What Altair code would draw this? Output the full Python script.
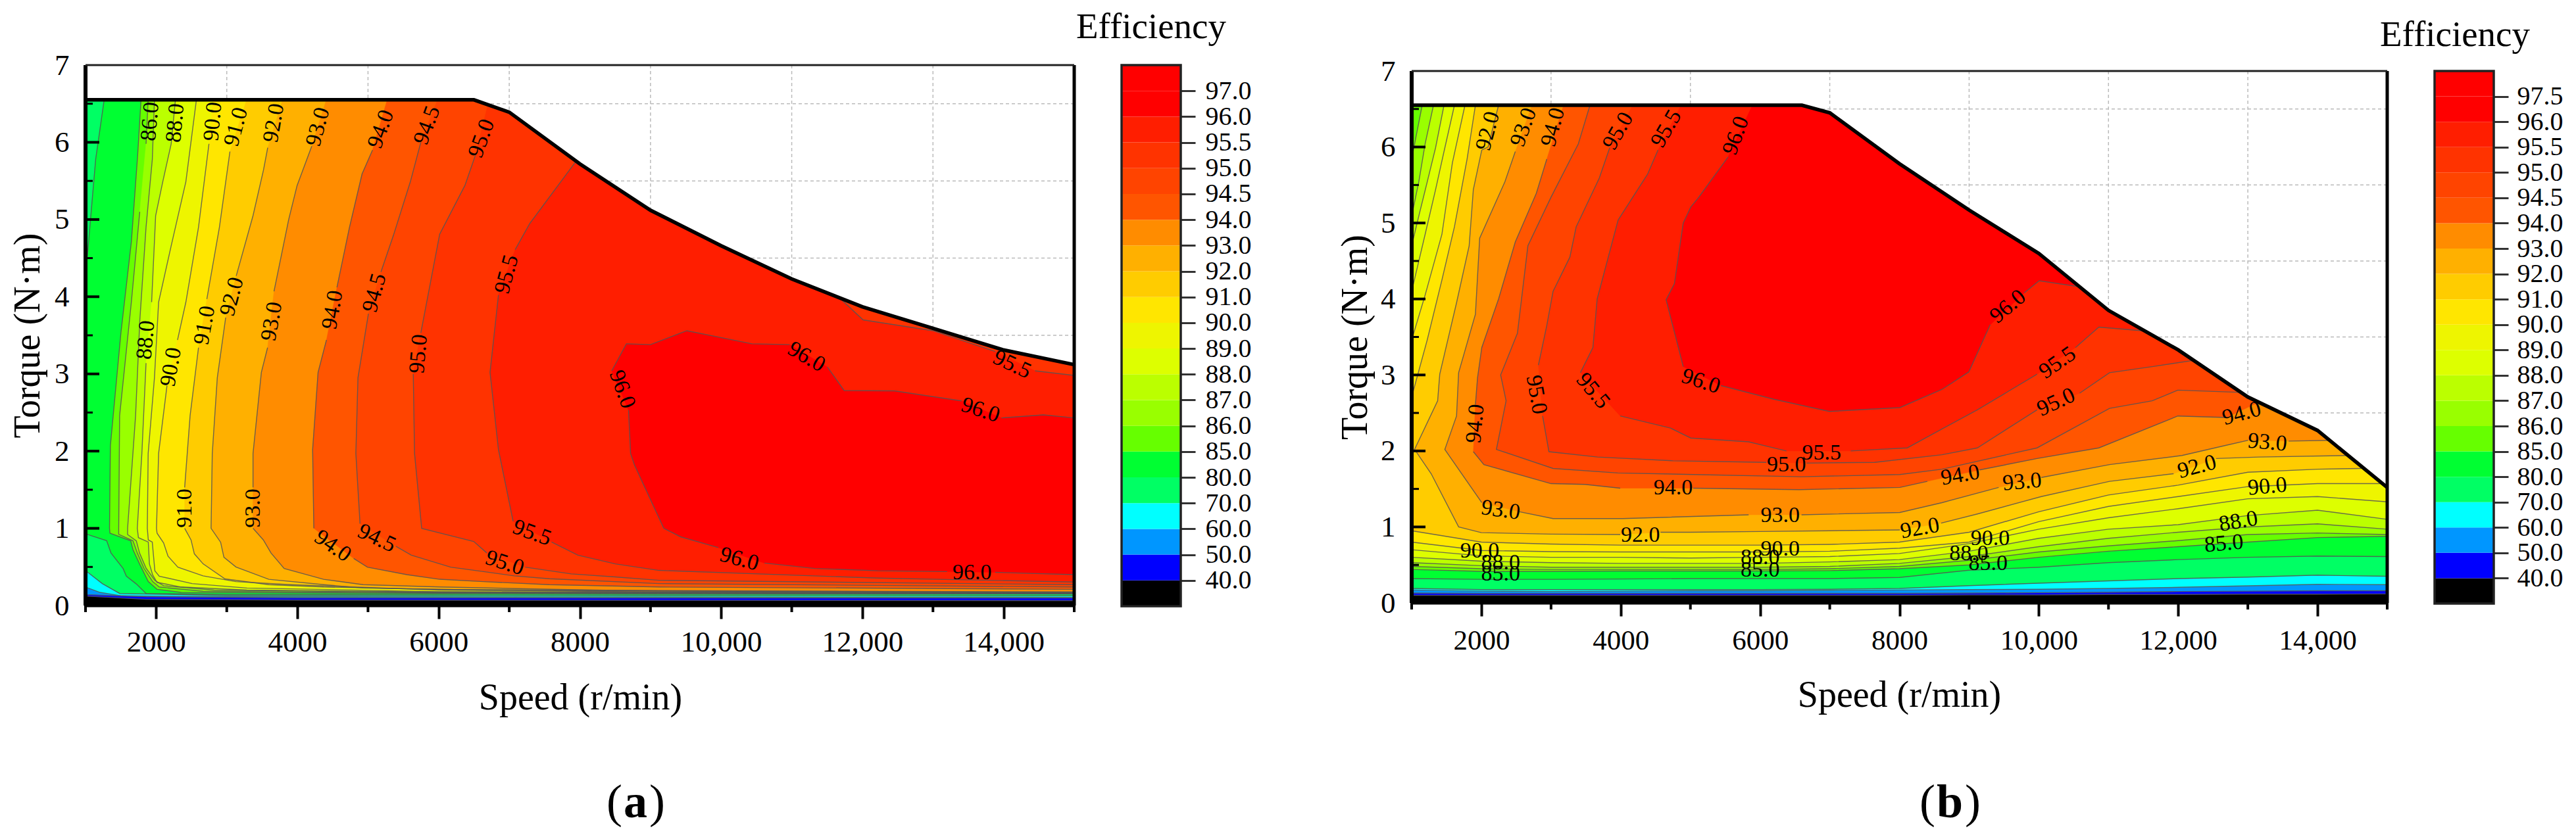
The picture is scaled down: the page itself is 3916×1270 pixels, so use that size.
import altair as alt
import pandas as pd

FONT = "Liberation Serif"

# Efficiency bands: lower bound of each band and its colour
band_levels = ["base", "40", "50", "60", "70", "80", "85", "86", "87", "88", "89", "90", "91", "92", "93", "94", "94.5", "95", "95.5", "96"]
band_colors = ["#000000", "#0000ff", "#0096ff", "#00ffff", "#00ff64", "#00ff32", "#66ff00", "#99ff00", "#bbff00", "#ddff00",
               "#eef500", "#ffe600", "#ffcc00", "#ffb000", "#ff8c00", "#ff5500", "#ff4400", "#ff3300", "#ff1e00", "#ff0000"]
legend_a = ["40.0", "50.0", "60.0", "70.0", "80.0", "85.0", "86.0", "87.0", "88.0", "89.0", "90.0", "91.0", "92.0", "93.0", "94.0", "94.5", "95.0", "95.5", "96.0", "97.0"]
legend_b = legend_a[:-1] + ["97.5"]

x_major = [2000, 4000, 6000, 8000, 10000, 12000, 14000]
x_minor = [1000, 3000, 5000, 7000, 9000, 11000, 13000, 15000]
y_major = [1, 2, 3, 4, 5, 6]
y_minor = [0.5, 1.5, 2.5, 3.5, 4.5, 5.5, 6.5]
grid_s = [3000, 5000, 7000, 9000, 11000, 13000]

# ---------------- panel (a) ----------------
edge_a = [(1000, 6.55), (6500, 6.55), (7000, 6.39), (8000, 5.72), (9000, 5.12), (10000, 4.66), (11000, 4.23), (12000, 3.87), (13000, 3.59), (14000, 3.31), (15000, 3.12)]
contours_a = {
 "base": [[(1000, 0), (15000, 0)]],
 "40": [[(1000, .122), (1858, .08), (4000, .07), (15000, .063)]],
 "50": [[(1000, .142), (1858, .114), (4000, .1), (15000, .1)]],
 "60": [[(1000, .24), (1206, .17), (1516, .125), (3000, .115), (15000, .105)]],
 "70": [[(1000, .454), (1237, .284), (1485, .156), (3000, .13), (15000, .125)]],
 "80": [[(1264, 6.55), (1144, 5.78), (1025, 4.51), (1000, 4.3)], [(1000, .93), (1299, .84), (1361, .68), (1532, .48), (1578, .38), (1718, .28), (1858, .156), (3000, .145), (15000, .148)]],
 "85": [[(1786, 6.55), (1738, 5.83), (1649, 4.71), (1501, 3.53), (1352, 2.07), (1340, 1.0), (1346, .937), (1640, .838), (1672, .724), (1765, .54), (1889, .31), (2013, .21), (2355, .17), (6000, .16), (15000, .152)]],
 "86": [[(1887, 6.55), (1857, 5.98)], [(1768, 5.1), (1649, 3.93), (1483, 2.46), (1470, 1.0), (1470, .923), (1672, .838), (1734, .68), (1827, .483), (1951, .31), (2044, .24), (2665, .185), (6000, .165), (15000, .155)]],
 "87": [[(1976, 6.55), (1946, 5.78), (1857, 4.9), (1768, 3.68), (1709, 2.46), (1596, 1.0), (1596, .92), (1720, .838), (1765, .68), (1858, .483), (1982, .325), (2106, .256), (2820, .2), (6000, .17), (15000, .158)]],
 "88": [[(2273, 6.55), (2213, 5.98), (2094, 5.49), (1993, 5.05), (1936, 3.93)], [(1857, 3.14), (1798, 1.97), (1733, 1.0), (1749, .88), (1889, .823), (1905, .54), (1951, .397), (2013, .3), (2355, .24), (3285, .2), (6000, .175), (15000, .16)]],
 "89": [[(2570, 6.55), (2421, 5.49), (2213, 4.66), (2035, 3.93), (1976, 2.95), (1887, 1.97), (1875, 1.0), (1889, .85), (1945, .823), (1982, .45), (2044, .38), (2510, .284), (3285, .227), (6000, .18), (15000, .162)]],
 "90": [[(2807, 6.55)], [(2748, 5.98), (2600, 4.9), (2421, 3.93), (2303, 3.44)], [(2154, 2.85), (2035, 1.97), (2005, 1.0), (2013, .937), (2106, .81), (2168, .64), (2308, .497), (2665, .384), (3130, .31), (3907, .27), (6000, .2), (15000, .165)]],
 "91": [[(3281, 6.55)], [(3045, 5.88), (2896, 4.9), (2718, 3.97)], [(2600, 3.34), (2481, 2.46), (2404, 1.53)], [(2404, 1.0), (2494, .85), (2541, .67), (2665, .54), (2975, .345), (3596, .27), (4372, .24), (6000, .21), (15000, .168)]],
 "92": [[(3790, 6.55)], [(3580, 5.93), (3520, 5.64), (3372, 5.05), (3134, 4.27)], [(2985, 3.73), (2866, 2.95), (2795, 1.97), (2778, 1.0), (2913, .82), (2960, .625), (3130, .5), (3596, .34), (4372, .27), (4930, .227), (6637, .2), (9120, .175), (15000, .172)]],
 "93": [[(4410, 6.55)], [(4204, 5.95), (3996, 5.44), (3877, 5.0), (3669, 4.07)], [(3578, 3.34), (3490, 3.02), (3372, 1.97), (3372, 1.53)], [(3372, 1.0), (3518, .85), (3627, .68), (3813, .48), (4372, .34), (4930, .27), (6016, .24), (8189, .2), (9120, .19), (15000, .178)]],
 "94": [[(5272, 6.55)], [(5064, 5.9), (4916, 5.59), (4738, 4.9), (4560, 4.12)], [(4412, 3.44), (4293, 3.02), (4216, 2.02), (4233, 1.0)], [(4797, .61), (4992, .497), (5550, .40), (6016, .34), (6637, .31), (7568, .27), (9120, .24), (15000, .21)]],
 "94.5": [[(5985, 6.55)], [(5748, 6.0), (5600, 5.49), (5362, 4.8), (5183, 4.32)], [(5006, 3.78), (4858, 2.95), (4828, 1.97), (4887, 1.06)], [(5395, .767), (5613, .653), (6171, .497), (6637, .44), (7071, .384), (7568, .347), (9120, .284), (15000, .24)]],
 "95": [[(6698, 6.49)], [(6520, 5.83), (6372, 5.44), (6015, 4.81), (5748, 3.53)], [(5641, 3.0), (5659, 1.97), (5760, 1.0), (6497, .83), (6683, .68)], [(7227, .497), (7878, .41), (8500, .37), (9120, .327), (15000, .27)]],
 "95.5": [[(7950, 5.76), (7292, 4.95), (7084, 4.61)], [(6847, 4.02), (6728, 3.02), (6847, 2.02), (7055, 1.09)], [(7599, .823), (7971, .653), (8500, .54), (9120, .455), (12218, .355), (15000, .305)], [(15000, 2.98), (14445, 3.04)], [(13881, 3.29), (13000, 3.56), (12010, 3.7), (11683, 3.98)]],
 "96": [[(15000, 2.43), (14564, 2.47), (13970, 2.43)], [(13406, 2.65), (12456, 2.78), (11743, 2.785), (11505, 3.09)], [(10970, 3.38), (10436, 3.39), (9515, 3.56), (9000, 3.38), (8659, 3.39), (8451, 3.04)], [(8689, 2.53), (8718, 1.97), (8773, 1.82), (9188, 1.0), (9426, .89), (9961, .75)], [(10614, .55), (11327, .48), (12218, .45), (13200, .44)], [(13881, .43), (15000, .40)]],
}
labels_a = [("86.0", 1917, 6.27, 275), ("88.0", 2273, 6.25, 275), ("90.0", 2807, 6.27, 275), ("91.0", 3134, 6.2, 285), ("92.0", 3669, 6.25, 280),
            ("93.0", 4293, 6.2, 285), ("94.0", 5184, 6.17, 290), ("94.5", 5838, 6.22, 290), ("95.0", 6610, 6.05, 290), ("95.5", 6966, 4.29, 285),
            ("94.5", 5094, 4.05, 285), ("92.0", 3075, 4.0, 285), ("91.0", 2689, 3.63, 280), ("94.0", 4500, 3.83, 280), ("93.0", 3639, 3.68, 280),
            ("88.0", 1857, 3.44, 275), ("90.0", 2213, 3.09, 280), ("95.0", 5718, 3.26, 275), ("96.0", 8599, 2.8, 70), ("91.0", 2404, 1.26, 270),
            ("93.0", 3372, 1.26, 270), ("94.0", 4500, .77, 35), ("94.5", 5124, .87, 25), ("95.0", 6936, .55, 18), ("95.5", 7322, .94, 20),
            ("96.0", 11208, 3.22, 30), ("95.5", 14119, 3.12, 25), ("96.0", 13673, 2.53, 18), ("96.0", 10258, .6, 15), ("96.0", 13555, .43, 0)]

# ---------------- panel (b) ----------------
edge_b = [(1000, 6.55), (6600, 6.55), (7000, 6.45), (8000, 5.78), (9000, 5.17), (10000, 4.6), (11000, 3.85), (12000, 3.33), (13000, 2.71), (14000, 2.27), (15000, 1.52)]
speeds_b = [1000, 2000, 3000, 4000, 5000, 6000, 7000, 8000, 9000, 10000, 11000, 12000, 13000, 14000, 15000]
low_40 = [.1, .1, .1, .1, .1, .1, .1, .1, .105, .105, .11, .11, .115, .115, .118]
low_50 = [.13, .125, .125, .125, .125, .125, .125, .125, .13, .135, .14, .15, .155, .16, .16]
low_60 = [.17, .155, .15, .155, .16, .16, .165, .17, .175, .18, .19, .205, .225, .245, .24]
low_70 = [.19, .175, .175, .175, .175, .175, .18, .19, .227, .26, .29, .32, .34, .365, .35]
low_80 = [.32, .31, .31, .315, .32, .32, .32, .335, .43, .47, .53, .57, .6, .617, .61]
low_85 = [.44, .415, .415, .42, .42, .42, .425, .45, .5, .6, .68, .74, .8, .86, .876]
low_86 = [.48, .45, .44, .44, .44, .44, .45, .48, .56, .67, .75, .82, .9, .92, .9]
low_87 = [.53, .49, .47, .47, .47, .47, .48, .52, .61, .74, .85, .93, 1.0, 1.04, .97]
low_88 = [.6, .55, .53, .52, .52, .52, .54, .57, .68, .85, .97, 1.03, 1.15, 1.22, 1.1]
low_89 = [.7, .62, .6, .6, .59, .6, .61, .65, .78, .97, 1.12, 1.24, 1.37, 1.4, 1.33]
low_90 = [.8, .69, .675, .67, .67, .67, .68, .72, .8, 1.07, 1.27, 1.4, 1.53, 1.57]
low_91 = [.95, .8, .775, .76, .76, .76, .77, .8, .93, 1.2, 1.42, 1.55, 1.72, 1.76]
contours_b = {
 "base": [[(1000, 0), (15000, 0)]],
 "40": [list(zip(speeds_b, low_40))],
 "50": [list(zip(speeds_b, low_50))],
 "60": [list(zip(speeds_b, low_60))],
 "70": [list(zip(speeds_b, low_70))],
 "80": [list(zip(speeds_b, low_80))],
 "85": [list(zip(speeds_b, low_85))],
 "86": [[(1151, 6.55), (1042, 6.04), (1000, 5.84)], list(zip(speeds_b, low_86))],
 "87": [[(1313, 6.55), (1193, 6.04), (1102, 5.54), (1000, 5.09)], list(zip(speeds_b, low_87))],
 "88": [[(1464, 6.55), (1343, 5.99), (1223, 5.54), (1102, 5.09), (1000, 4.7)], list(zip(speeds_b, low_88))],
 "89": [[(1614, 6.55), (1464, 5.94), (1343, 5.44), (1193, 4.85), (1000, 4.1)], list(zip(speeds_b, low_89))],
 "90": [[(1765, 6.55), (1584, 5.79), (1434, 4.85), (1193, 4.05), (1000, 3.46)], list(zip(speeds_b, low_90)) + [(14933, 1.57)]],
 "91": [[(1915, 6.55), (1795, 5.84), (1614, 4.95), (1434, 4.25), (1223, 3.46), (1000, 2.71)], list(zip(speeds_b, low_91)) + [(14626, 1.77)]],
 "92": [[(2247, 6.55), (2096, 6.0), (2006, 5.96), (1885, 5.44), (1825, 4.7), (1644, 3.95), (1403, 3.01), (1373, 2.66), (1042, 2.02), (1280, 1.7), (1674, 1.0), (2000, .925), (3000, .905), (3993, .9)], [(4571, .93), (5000, .93), (6000, .94), (7000, .95), (8005, .96)], [(8598, 1.05), (9118, 1.17), (10036, 1.4), (11015, 1.6), (11934, 1.7)], [(12545, 1.9), (13157, 1.92), (14440, 1.94)]],
 "93": [[(2728, 6.55)], [(2487, 5.94), (2337, 5.54), (1976, 4.8), (1915, 3.8), (1674, 3.03), (1644, 2.46), (1476, 2.02), (2006, 1.32)], [(2548, 1.2), (3029, 1.11), (4029, 1.11), (5836, 1.16)], [(6595, 1.16), (8005, 1.19), (8612, 1.32), (9424, 1.52)], [(10036, 1.65), (11015, 1.82), (12056, 1.94), (12668, 2.07), (13004, 2.14)], [(13586, 2.13), (14173, 2.14)]],
 "94": [[(3180, 6.55)], [(2939, 5.84), (2789, 5.39), (2487, 4.75), (2247, 4.0), (2006, 3.36), (1945, 2.96), (1915, 2.61)], [(1885, 1.99), (2036, 1.82), (3000, 1.57), (3487, 1.56), (3993, 1.51)], [(5041, 1.51), (6559, 1.49), (8005, 1.52), (8400, 1.6)], [(9149, 1.75), (9975, 1.9), (10862, 2.04), (11995, 2.46), (12698, 2.44)], [(13150, 2.64)]],
 "94.5": [[(3559, 6.55), (3391, 6.04), (3000, 5.34), (2668, 4.7), (2518, 3.55), (2277, 3.0), (2355, 2.66), (2216, 2.02), (3029, 1.77), (3957, 1.71), (5041, 1.69), (6595, 1.66), (8005, 1.69), (8612, 1.76), (9975, 2.04), (11015, 2.56), (11627, 2.66), (11995, 2.8), (12913, 2.77)]],
 "95": [[(4174, 6.55)], [(3842, 5.99), (3692, 5.59), (3361, 4.95), (3270, 4.55), (3029, 4.1), (2939, 3.65), (2819, 3.13)], [(2879, 2.46), (2970, 1.99), (3668, 1.92), (4752, 1.87), (6089, 1.85)], [(6667, 1.84), (7643, 1.85), (8612, 1.95), (9118, 2.04), (9975, 2.54)], [(10587, 2.76), (11015, 3.03), (11627, 3.11), (12209, 3.19)]],
 "95.5": [[(4866, 6.55)], [(4535, 5.96), (4384, 5.64), (3963, 5.04), (3662, 4.0), (3601, 3.36), (3421, 3.03)], [(3993, 2.46), (4716, 2.3), (5005, 2.17), (5836, 2.12), (6378, 2.0)], [(7300, 2.0), (8113, 2.04), (8612, 2.29), (9118, 2.54), (9975, 3.01)], [(10526, 3.36), (10862, 3.63), (11505, 3.58)]],
 "96": [[(5890, 6.55)], [(5542, 5.87), (5113, 5.33), (5005, 5.21), (4897, 5.0), (4770, 4.2), (4651, 3.99), (4897, 3.11)], [(5439, 2.86), (6198, 2.68), (6993, 2.52), (8005, 2.57), (8612, 2.81), (8996, 3.04), (9302, 3.66)], [(9791, 4.08), (10006, 4.24), (10587, 4.16)]],
}
labels_b = [("92.0", 2096, 6.21, 285), ("93.0", 2608, 6.26, 290), ("94.0", 3029, 6.26, 285), ("95.0", 3963, 6.21, 300), ("95.5", 4655, 6.24, 300),
            ("96.0", 5655, 6.15, 290), ("94.0", 1915, 2.36, 275), ("95.0", 2789, 2.74, 80), ("95.5", 3601, 2.79, 50), ("96.0", 5150, 2.915, 18),
            ("95.5", 6884, 1.97, 0), ("95.0", 6378, 1.82, 0), ("94.0", 4752, 1.51, 0), ("93.0", 2277, 1.22, 8), ("92.0", 4282, .895, 0),
            ("93.0", 6288, 1.15, 0), ("92.0", 8294, .98, 350), ("90.0", 1976, .68, 0), ("88.0", 2277, .53, 0), ("85.0", 2277, .38, 0),
            ("90.0", 6288, .71, 0), ("88.0", 6000, .6, 0), ("85.0", 6000, .43, 0), ("96.0", 9559, 3.9, 320), ("95.5", 10269, 3.16, 325),
            ("95.0", 10250, 2.64, 335), ("94.0", 12913, 2.49, 345), ("93.0", 13280, 2.11, 5), ("92.0", 12270, 1.79, 345), ("90.0", 13280, 1.53, 355),
            ("88.0", 12864, 1.07, 350), ("85.0", 12656, .78, 355), ("94.0", 8873, 1.68, 350), ("93.0", 9761, 1.59, 355), ("90.0", 9302, .85, 0),
            ("88.0", 8996, .65, 0), ("85.0", 9271, .52, 0)]


def polygon(pieces, edge):
    pts = [p for piece in pieces for p in piece]
    first, last = pts[0], pts[-1]
    if first[0] < last[0]:
        pts += [p for p in reversed(edge) if first[0] <= p[0] <= last[0]]
    return pts


def panel(contours, edge, labels, W, H, letter, sub, title_x, sub_y):
    x_sc = alt.Scale(domain=[1000, 15000], nice=False, zero=False)
    y_sc = alt.Scale(domain=[0, 7], nice=False, zero=False)
    x_enc = alt.X("s:Q", scale=x_sc, title="Speed (r/min)", axis=alt.Axis(
        values=x_major, grid=False, domain=False, tickSize=20, tickWidth=4, tickColor="black",
        labelFont=FONT, labelFontSize=sub["xl"], labelColor="black", labelPadding=sub["xp"], labelBaseline="alphabetic",
        labelExpr="datum.value >= 10000 ? format(datum.value, ',') : format(datum.value, 'd')", labelOverlap=False,
        titleFont=FONT, titleFontSize=sub["tf"], titleFontWeight="normal", titleColor="black", titleX=title_x, titleY=sub["ty"], titleBaseline="alphabetic"))
    y_enc = alt.Y("t:Q", scale=y_sc, title="Torque (N·m)", axis=alt.Axis(
        values=[0] + y_major + [7], grid=False, domain=False, ticks=False, labelPadding=25,
        labelFont=FONT, labelFontSize=45, labelColor="black", format="d",
        titleFont=FONT, titleFontSize=sub["tf"], titleFontWeight="normal", titleColor="black", titleX=sub["yx"], titleY=H / 2, titleBaseline="alphabetic"))

    layers = []
    grid_v = pd.DataFrame({"s": grid_s})
    grid_h = pd.DataFrame({"t": y_minor})
    layers.append(alt.Chart(grid_v).mark_rule(color="#bbbbbb", strokeWidth=1.5, strokeDash=[5, 4]).encode(x=x_enc))
    layers.append(alt.Chart(grid_h).mark_rule(color="#bbbbbb", strokeWidth=1.5, strokeDash=[5, 4]).encode(y=y_enc))

    for lev, col in zip(band_levels, band_colors):
        pts = polygon(contours[lev], edge)
        df = pd.DataFrame({"s": [p[0] for p in pts], "t": [p[1] for p in pts], "i": range(len(pts))})
        layers.append(alt.Chart(df).mark_line(fill=col, stroke=col, strokeWidth=0.5).encode(x=x_enc, y=y_enc, order=alt.Order("i:Q")))

    rows = []
    for lev in band_levels[1:]:
        for k, piece in enumerate(contours[lev]):
            for i, p in enumerate(piece):
                rows.append({"s": p[0], "t": p[1], "i": i, "p": f"{lev}-{k}"})
    layers.append(alt.Chart(pd.DataFrame(rows)).mark_line(color="#555555", strokeWidth=1.4, opacity=0.85).encode(
        x=x_enc, y=y_enc, detail="p:N", order=alt.Order("i:Q")))

    lab = pd.DataFrame(labels, columns=["txt", "s", "t", "a"])
    layers.append(alt.Chart(lab).mark_text(font=FONT, fontSize=34, color="black", baseline="middle", align="center").encode(
        x=x_enc, y=y_enc, text="txt:N", angle=alt.Angle("a:Q", scale=None)))

    edf = pd.DataFrame({"s": [p[0] for p in edge], "t": [p[1] for p in edge], "i": range(len(edge))})
    layers.append(alt.Chart(edf).mark_line(color="black", strokeWidth=5.5).encode(x=x_enc, y=y_enc, order=alt.Order("i:Q")))

    # frame
    layers.append(alt.Chart(pd.DataFrame({"s": [1000]})).mark_rule(color="black", strokeWidth=6).encode(x=x_enc))
    layers.append(alt.Chart(pd.DataFrame({"s": [15000]})).mark_rule(color="black", strokeWidth=5).encode(x=x_enc))
    layers.append(alt.Chart(pd.DataFrame({"t": [0]})).mark_rule(color="black", strokeWidth=5).encode(y=y_enc))
    layers.append(alt.Chart(pd.DataFrame({"t": [7]})).mark_rule(color="#222222", strokeWidth=3).encode(y=y_enc))

    # inward y ticks, short outward x ticks
    layers.append(alt.Chart(pd.DataFrame({"t": y_major})).mark_rule(color="black", strokeWidth=4).encode(y=y_enc, x=alt.value(0), x2=alt.value(21)))
    layers.append(alt.Chart(pd.DataFrame({"t": y_minor})).mark_rule(color="black", strokeWidth=3).encode(y=y_enc, x=alt.value(0), x2=alt.value(11)))
    layers.append(alt.Chart(pd.DataFrame({"s": x_minor})).mark_rule(color="black", strokeWidth=4).encode(x=x_enc, y=alt.value(H), y2=alt.value(H + 10)))

    # sub-figure letter
    for txt, dx, w in letter:
        layers.append(alt.Chart(pd.DataFrame({"s": [0]})).mark_text(text=txt, font=FONT, fontSize=72, fontWeight=w, color="black", baseline="alphabetic", align="center").encode(
            x=alt.value(dx), y=alt.value(sub_y)))
    return alt.layer(*layers).properties(width=W, height=H)


def colorbar(labels, H, pad, tx, ty):
    n = len(labels) + 1
    colors = band_colors + ["#ff0000"]
    df = pd.DataFrame({"lo": list(range(n)), "hi": [v + 1 for v in range(n)], "c": colors})
    lab_js = "[" + ",".join(f"'{v}'" for v in labels) + "]"
    y_enc = alt.Y("lo:Q", scale=alt.Scale(domain=[0, n], nice=False, zero=False), title=None, axis=alt.Axis(
        orient="right", values=list(range(1, n)), grid=False, domain=False, tickSize=22, tickWidth=3, tickColor="#333333",
        labelFont=FONT, labelFontSize=40, labelColor="black", labelPadding=pad, labelOverlap=False, labelExpr=f"{lab_js}[datum.value - 1]"))
    bars = alt.Chart(df).mark_rect().encode(y=y_enc, y2="hi:Q", x=alt.value(0), x2=alt.value(90), color=alt.Color("c:N", scale=None))
    outline = alt.Chart(pd.DataFrame({"lo": [0], "hi": [n]})).mark_rect(filled=False, stroke="#222222", strokeWidth=3.5).encode(
        y=y_enc, y2="hi:Q", x=alt.value(0), x2=alt.value(90))
    title = alt.Chart(pd.DataFrame({"a": [0]})).mark_text(text="Efficiency", font=FONT, fontSize=55, color="black", baseline="alphabetic", align="center").encode(
        x=alt.value(tx), y=alt.value(ty))
    return alt.layer(bars, outline, title).properties(width=90, height=H)


def spacer(w, h):
    return alt.Chart(pd.DataFrame({"a": [0]})).mark_point(opacity=0).encode(x=alt.value(0), y=alt.value(0)).properties(
        width=w, height=h, view=alt.ViewBackground(stroke="transparent", fill="transparent", strokeWidth=0))


sub_a = {"xl": 45, "xp": 49, "tf": 56, "ty": 157, "yx": -71}
sub_b = {"xl": 43, "xp": 50, "tf": 56, "ty": 157, "yx": -69}
pa = panel(contours_a, edge_a, labels_a, 1503, 822, [("(", 804, "normal"), ("a", 836, "bold"), (")", 869, "normal")], sub_a, 752, 1144)
pb = panel(contours_b, edge_b, labels_b, 1483, 809, [("(", 784, "normal"), ("b", 818, "bold"), (")", 853, "normal")], sub_b, 741, 1135)
ca = colorbar(legend_a, 823, 15, 45, -41)
cb = colorbar(legend_b, 810, 13, 31, -38)

right = alt.vconcat(spacer(1, 9), alt.hconcat(pb, cb, spacing=72, bounds="flush"), spacing=0, bounds="flush")
chart = alt.hconcat(pa, ca, spacer(207, 9), right, spacing=72, bounds="flush").properties(
    padding={"left": 5, "top": 5, "right": 0, "bottom": 0}
).configure_view(strokeWidth=0, stroke="transparent").configure(background="white")

chart.save("out.html", embed_options={"renderer": "svg", "actions": False})
